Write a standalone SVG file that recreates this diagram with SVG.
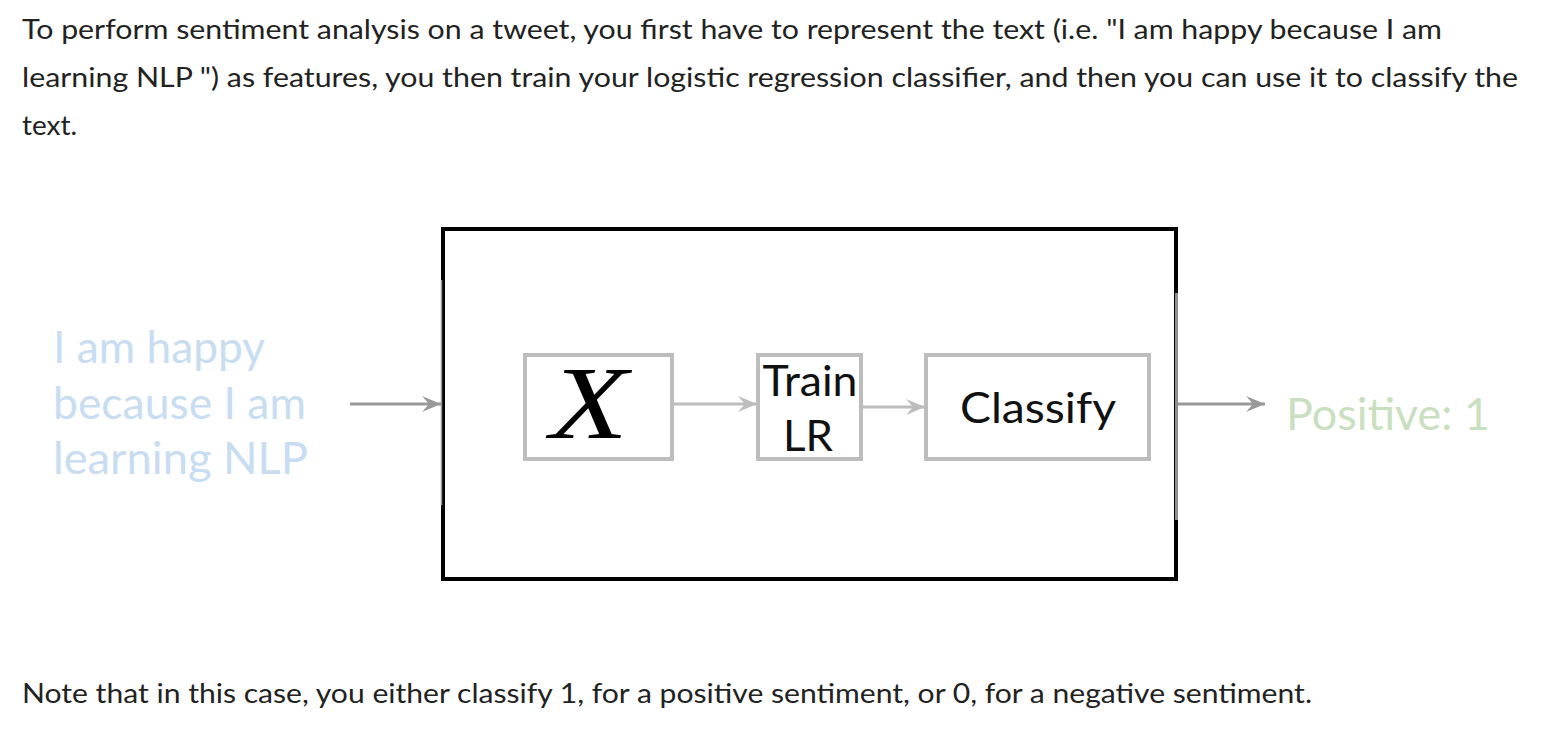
<svg xmlns="http://www.w3.org/2000/svg" width="1552" height="748" viewBox="0 0 1552 748">
<style>
.para{font-family:"Lato","Liberation Sans",sans-serif;font-size:26px;fill:#222}
.lato{font-family:"Lato","Liberation Sans",sans-serif}
.node{fill:#fff;stroke:#bdbdbd;stroke-width:4}
.lbl{font-size:42px;fill:#111}
.in{font-size:45px;fill:#c8dcf2}
.out{font-size:45px;fill:#c9e0c0}
.c-dark{stroke:#999;stroke-width:3;fill:none}
.c-light{stroke:#bdbdbd;stroke-width:3;fill:none}
</style>
<defs>
<marker id="ahDark" markerUnits="userSpaceOnUse" markerWidth="24" markerHeight="20" viewBox="-20 -10 24 20" refX="0" refY="0" orient="auto">
<path d="M0,0 L-19,-8 L-12,0 L-19,8 Z" fill="#999"/>
</marker>
<marker id="ahLight" markerUnits="userSpaceOnUse" markerWidth="24" markerHeight="20" viewBox="-20 -10 24 20" refX="0" refY="0" orient="auto">
<path d="M0,0 L-19,-8 L-12,0 L-19,8 Z" fill="#bdbdbd"/>
</marker>
</defs>
<rect width="1552" height="748" fill="#fff"/>

<g id="paragraph">
<text class="para" x="22" y="39" textLength="1420" lengthAdjust="spacingAndGlyphs">To perform sentiment analysis on a tweet, you first have to represent the text (i.e. "I am happy because I am</text>
<text class="para" x="22" y="87" textLength="1496" lengthAdjust="spacingAndGlyphs">learning NLP ") as features, you then train your logistic regression classifier, and then you can use it to classify the</text>
<text class="para" x="22" y="135" textLength="55" lengthAdjust="spacingAndGlyphs">text.</text>
</g>

<g id="outer-box">
<rect x="443" y="229" width="733" height="350" fill="none" stroke="#000" stroke-width="4"/>
<line x1="441.5" y1="280" x2="441.5" y2="505" stroke="#9a9a9a" stroke-width="1.5"/>
<line x1="1176.5" y1="293" x2="1176.5" y2="520" stroke="#8f8f8f" stroke-width="3"/>
</g>

<g id="input-text" class="lato">
<text class="in" x="53" y="363" textLength="212" lengthAdjust="spacingAndGlyphs">I am happy</text>
<text class="in" x="53" y="419" textLength="253" lengthAdjust="spacingAndGlyphs">because I am</text>
<text class="in" x="53" y="474" textLength="255" lengthAdjust="spacingAndGlyphs">learning NLP</text>
</g>

<g id="node-x">
<rect class="node" x="525" y="355" width="147" height="104"/>
<text x="550" y="438" font-family="'Liberation Serif','Times New Roman',serif" font-style="italic" font-size="104" fill="#000" textLength="78" lengthAdjust="spacingAndGlyphs">X</text>
</g>

<g id="node-train" class="lato">
<rect class="node" x="758" y="355" width="103" height="104"/>
<text class="lbl" x="810" y="396" text-anchor="middle" textLength="95" lengthAdjust="spacingAndGlyphs">Train</text>
<text class="lbl" x="808" y="451" text-anchor="middle" textLength="50" lengthAdjust="spacingAndGlyphs">LR</text>
</g>

<g id="node-classify" class="lato">
<rect class="node" x="926" y="355" width="223" height="104"/>
<text class="lbl" x="960" y="423" textLength="156" lengthAdjust="spacingAndGlyphs">Classify</text>
</g>

<g id="output-text" class="lato">
<text class="out" x="1286" y="430" textLength="204" lengthAdjust="spacingAndGlyphs">Positive: 1</text>
</g>

<g id="connectors">
<line class="c-dark" x1="350" y1="404" x2="441" y2="404" marker-end="url(#ahDark)"/>
<line class="c-light" x1="672" y1="404" x2="757" y2="404" marker-end="url(#ahLight)"/>
<line class="c-light" x1="861" y1="407" x2="925" y2="407" marker-end="url(#ahLight)"/>
<line class="c-dark" x1="1178" y1="404" x2="1265" y2="404" marker-end="url(#ahDark)"/>
</g>

<g id="note">
<text class="para" x="22" y="703" textLength="1290" lengthAdjust="spacingAndGlyphs">Note that in this case, you either classify 1, for a positive sentiment, or 0, for a negative sentiment.</text>
</g>
</svg>
